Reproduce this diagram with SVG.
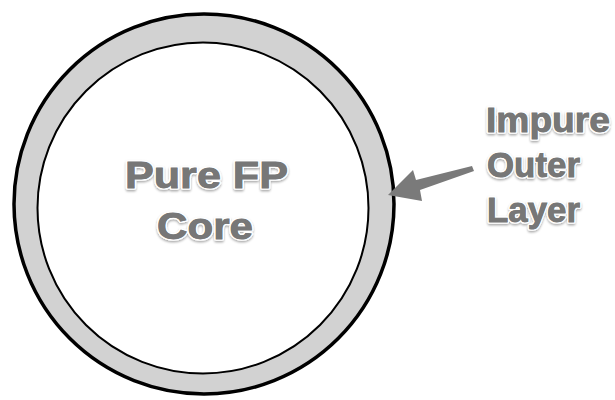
<svg xmlns="http://www.w3.org/2000/svg" width="615" height="400" viewBox="0 0 615 400">
<defs>
<filter id="sh" x="-10%" y="-10%" width="120%" height="130%">
<feDropShadow dx="0" dy="1.5" stdDeviation="1.2" flood-color="#000" flood-opacity="0.35"/>
</filter>
</defs>
<style>
.lbl{font-family:"Liberation Sans",Arial,sans-serif;font-weight:bold;fill:#777;stroke:#fff;stroke-width:3.5;paint-order:stroke;stroke-linejoin:round;filter:url(#sh)}
.ink{font-family:"Liberation Sans",Arial,sans-serif;font-weight:bold;fill:#777;stroke:#777;stroke-width:0.8}
</style>
<rect width="615" height="400" fill="#fff"/>
<g id="outer-layer">
<circle cx="204" cy="204" r="190" fill="#d2d2d2" stroke="#000" stroke-width="3.5"/>
</g>
<g id="core">
<circle cx="203" cy="208" r="165.5" fill="#fff" stroke="#000" stroke-width="2"/>
<text class="lbl" x="125" y="188" font-size="37" textLength="163" lengthAdjust="spacingAndGlyphs">Pure FP</text>
<text class="ink" x="125" y="188" font-size="37" textLength="163" lengthAdjust="spacingAndGlyphs">Pure FP</text>
<text class="lbl" x="157" y="239" font-size="37" textLength="96" lengthAdjust="spacingAndGlyphs">Core</text>
<text class="ink" x="157" y="239" font-size="37" textLength="96" lengthAdjust="spacingAndGlyphs">Core</text>
</g>
<g id="connectors">
<polygon points="388,195 413,170 416,180 472,166 474,171 420,190 422,201" fill="#7a7a7a"/>
</g>
<g id="impure-label">
<text class="lbl" x="486" y="132" font-size="35" textLength="124" lengthAdjust="spacingAndGlyphs">Impure</text>
<text class="ink" x="486" y="132" font-size="35" textLength="124" lengthAdjust="spacingAndGlyphs">Impure</text>
<text class="lbl" x="487" y="177" font-size="35" textLength="93" lengthAdjust="spacingAndGlyphs">Outer</text>
<text class="ink" x="487" y="177" font-size="35" textLength="93" lengthAdjust="spacingAndGlyphs">Outer</text>
<text class="lbl" x="487" y="222" font-size="35" textLength="93" lengthAdjust="spacingAndGlyphs">Layer</text>
<text class="ink" x="487" y="222" font-size="35" textLength="93" lengthAdjust="spacingAndGlyphs">Layer</text>
</g>
</svg>
